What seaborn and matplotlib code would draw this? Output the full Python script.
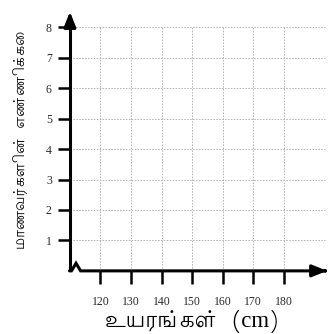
import matplotlib
matplotlib.use("Agg")
import matplotlib.pyplot as plt
import seaborn as sns

# Axis scales for the blank height / student-count grid
heights = [120, 130, 140, 150, 160, 170, 180]
height_labels = ["120", "130", "140", "150", "160", "170", "180"]
counts = [1, 2, 3, 4, 5, 6, 7, 8]
count_labels = ["1", "2", "3", "4", "5", "6", "7", "8"]
x_title = "உயரங்கள்  (cm)"
y_title = "மாணவர்களின்  எண்ணிக்கை"

sns.set_theme(style="white")
plt.rcParams["font.family"] = ["Liberation Serif", "DejaVu Serif"]

fig = plt.figure(figsize=(3.33, 3.34), dpi=100)
ax = fig.add_axes([0.210, 0.189, 0.781, 0.784])
x0, x1 = 110, 195.2
y0, y1 = 0, 8.6
ax.set_xlim(x0, x1)
ax.set_ylim(y0, y1)

# light dotted grid
grid_kw = dict(color="#b4b4b4", lw=0.7, ls=(0, (1.6, 1.4)), zorder=1)
sns.lineplot(x=[x0, x1 - 1.8], y=[counts[0], counts[0]], ax=ax, **grid_kw)
for c in counts[1:]:
    ax.plot([x0, x1 - 1.8], [c, c], **grid_kw)
for h in heights:
    ax.plot([h, h], [y0, counts[-1]], **grid_kw)

for s in ax.spines.values():
    s.set_visible(False)

# axis lines with arrow heads and the small break next to the origin
lw = 2.2
ax.plot([x0, x0], [0.0, y1 - 0.3], color="black", lw=lw, zorder=3,
        clip_on=False, solid_capstyle="butt")
ax.annotate("", xy=(x0, y1), xytext=(x0, y1 - 0.6),
            arrowprops=dict(arrowstyle="-|>,head_length=0.75,head_width=0.3",
                            color="black", lw=lw), annotation_clip=False)
ax.plot([x0 - 0.15, x0 + 0.5, x0 + 2.0, x0 + 3.5, x1 - 1.5],
        [0.0, 0.0, 0.25, 0.0, 0.0], color="black", lw=lw, zorder=3,
        clip_on=False, solid_joinstyle="miter")
ax.annotate("", xy=(x1, 0), xytext=(x1 - 2.5, 0),
            arrowprops=dict(arrowstyle="-|>,head_length=0.75,head_width=0.3",
                            color="black", lw=lw), annotation_clip=False)

ax.set_xticks(heights)
ax.set_xticklabels(height_labels)
ax.set_yticks(counts)
ax.set_yticklabels(count_labels)
ax.tick_params(axis="both", which="both", length=9, width=1.8, color="black",
               labelsize=8.5, labelcolor="#2a2a2a", pad=9,
               bottom=True, left=True, top=False, right=False)
ax.tick_params(axis="y", pad=4)

ax.set_xlabel(x_title, fontsize=16.5, family=["Lohit Tamil", "Liberation Serif"],
              color="black")
ax.xaxis.set_label_coords(0.47, -0.15)
ax.set_ylabel(y_title, fontsize=10.8, family=["Lohit Tamil", "Liberation Serif"],
              color="black")
ax.yaxis.set_label_coords(-0.158, 0.5)

fig.savefig("out.png", dpi=100, facecolor="white")
